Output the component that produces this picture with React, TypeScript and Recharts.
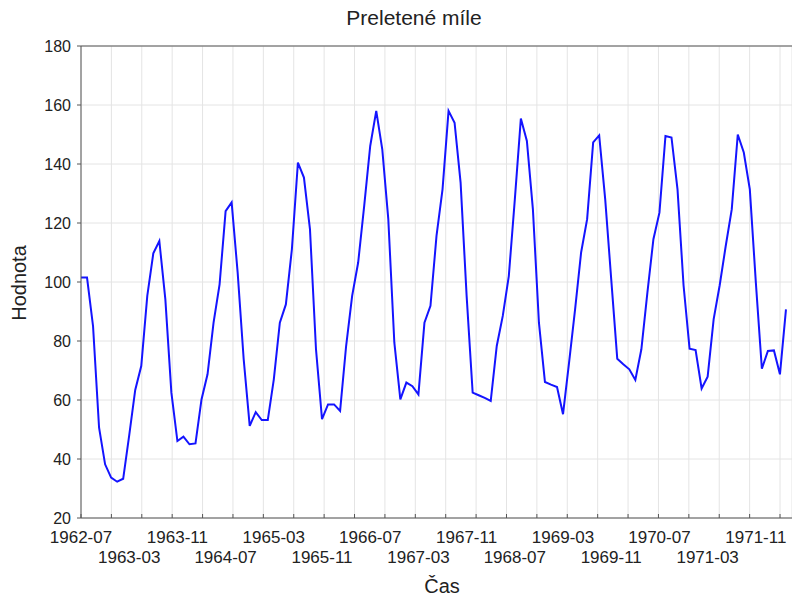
import React from "react";
import { CartesianGrid, Line, LineChart, ReferenceLine, XAxis, YAxis } from "recharts";

// monthly values, starting 1962-07
const values = [
  101.5, 101.5, 85, 50.6, 38.2, 33.7, 32.3, 33.3, 48, 63.4, 71.5, 95.3,
  109.7, 113.9, 94.1, 62.5, 46.1, 47.6, 45, 45.3, 60.2, 68.7, 86.2, 99.2,
  124, 127, 103.2, 73.8, 51.2, 55.9, 53.2, 53.2, 67, 86.2, 92.4, 111.1,
  140.5, 135.4, 117.9, 77.2, 53.5, 58.5, 58.5, 56.3, 78.3, 95.3, 106.6, 125.8,
  146.1, 158, 145, 121.3, 79.5, 60.2, 65.9, 64.7, 61.9, 86.2, 91.9, 115.6,
  131.4, 158, 154, 133.7, 95.3, 62.5, 61.6, 60.7, 59.7, 78.3, 88.5, 102,
  128, 155.4, 147.8, 124.6, 86.2, 66.1, 65.2, 64.4, 55.2, 72.7, 90.7, 110,
  121.3, 147.3, 149.7, 128, 100.9, 74, 72.1, 70.4, 66.8, 77.2, 96.4, 114.5,
  123.5, 149.5, 149, 131.4, 98.9, 77.4, 76.9, 63.9, 67.9, 87.4, 98.9, 112.2,
  124.6, 150, 143.9, 131.4, 99.8, 70.6, 76.6, 76.8, 68.7, 90.7,
];

const labelMonths = [
  "1962-07", "1963-03", "1963-11", "1964-07", "1965-03", "1965-11", "1966-07", "1967-03",
  "1967-11", "1968-07", "1969-03", "1969-11", "1970-07", "1971-03", "1971-11",
];

const yTicks = [20, 40, 60, 80, 100, 120, 140, 160, 180];

const START_YEAR = 1962;
const START_MONTH = 7;
const GRID_STEP = 5.044; // grid spacing in months

const monthIndex = (s: string) => {
  const [y, m] = s.split("-").map(Number);
  return (y - START_YEAR) * 12 + (m - START_MONTH);
};

const data = values.map((v, i) => ({ t: i, v }));
const labelTicks = labelMonths.map(monthIndex);
const gridTicks: number[] = [];
for (let g = 0; g <= 118; g += GRID_STEP) gridTicks.push(g);

const FONT = "'Liberation Sans', Arial, sans-serif";

function EmptyTick() {
  return <g />;
}

function DateTick(props: any) {
  const { x, y, payload, index } = props;
  const label = labelMonths[labelTicks.indexOf(payload.value)] ?? "";
  return (
    <text
      x={x}
      y={y + (index % 2 === 0 ? 24 : 44)}
      textAnchor="middle"
      fill="#222"
      fontSize={17}
      fontFamily={FONT}
    >
      {label}
    </text>
  );
}

export default function App() {
  return (
    <div style={{ position: "absolute", left: 0, top: 0, width: 792, height: 596, background: "#fff", fontFamily: FONT }}>
      <div
        style={{
          position: "absolute",
          left: 414,
          top: 6,
          transform: "translateX(-50%)",
          fontSize: 21,
          color: "#222",
          whiteSpace: "nowrap",
        }}
      >
        Preletené míle
      </div>
      <div
        style={{
          position: "absolute",
          left: 19,
          top: 283,
          transform: "translate(-50%, -50%) rotate(-90deg)",
          fontSize: 20,
          color: "#222",
          whiteSpace: "nowrap",
        }}
      >
        Hodnota
      </div>
      <div
        style={{
          position: "absolute",
          left: 442,
          top: 575,
          transform: "translateX(-50%)",
          fontSize: 20,
          color: "#222",
          whiteSpace: "nowrap",
        }}
      >
        Čas
      </div>
      <LineChart width={792} height={596} data={data} margin={{ top: 46, right: 0, bottom: 0, left: 0 }}>
        <CartesianGrid xAxisId="g" stroke="#e4e4e4" />
        <XAxis
          xAxisId="g"
          dataKey="t"
          type="number"
          domain={[0, 118]}
          ticks={gridTicks}
          tick={<EmptyTick />}
          tickSize={-4}
          height={1}
          stroke="#555"
          interval={0}
          allowDataOverflow
        />
        <XAxis
          xAxisId="l"
          dataKey="t"
          type="number"
          domain={[0, 118]}
          ticks={labelTicks}
          tick={<DateTick />}
          tickLine={false}
          axisLine={false}
          tickSize={0}
          tickMargin={0}
          height={77}
          interval={0}
        />
        <YAxis
          domain={[20, 180]}
          ticks={yTicks}
          width={81}
          tickSize={4}
          tickMargin={6}
          stroke="#555"
          tick={{ fill: "#222", fontSize: 16, fontFamily: FONT }}
          interval={0}
        />
        <ReferenceLine xAxisId="g" y={180} stroke="#555" />
        <Line
          xAxisId="g"
          dataKey="v"
          type="linear"
          stroke="#1414ff"
          strokeWidth={2}
          dot={false}
          isAnimationActive={false}
        />
      </LineChart>
    </div>
  );
}
